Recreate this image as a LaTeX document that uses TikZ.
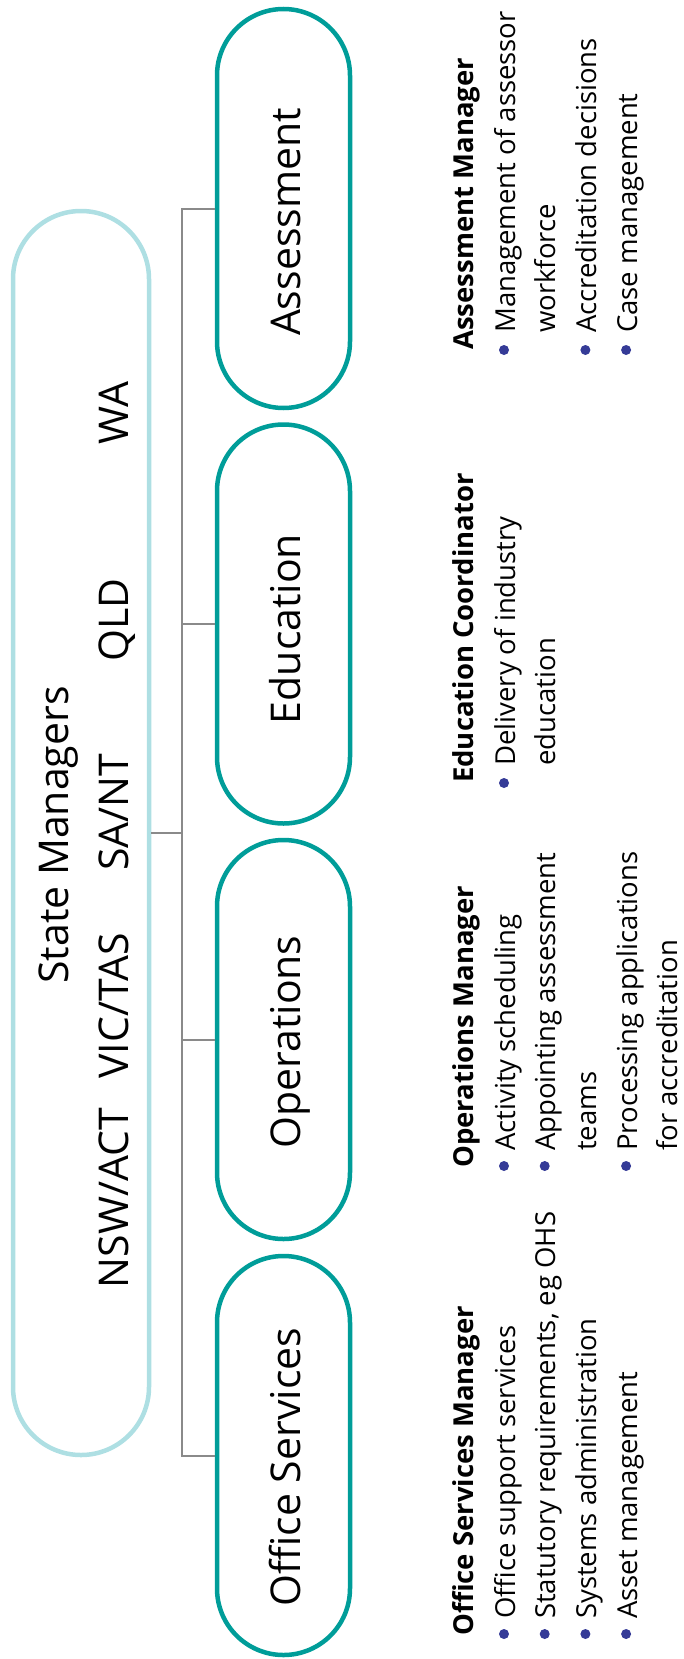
\documentclass[tikz,border=0pt]{standalone}
\usepackage{fontspec}
\setmainfont{Open Sans}
\usepackage{array}
\definecolor{boxteal}{RGB}{0,157,153}
\definecolor{smcyan}{RGB}{174,223,227}
\definecolor{conngray}{RGB}{138,138,138}
\definecolor{bulletblue}{RGB}{53,59,151}
\tikzset{
  unitbox/.style={draw=boxteal, line width=4.5pt, minimum width=133pt, minimum height=399pt, rounded corners=66.5pt, inner sep=0pt},
  smbox/.style={draw=smcyan, line width=4.5pt, minimum width=136pt, minimum height=1244pt, rounded corners=68pt, inner sep=0pt},
  conn/.style={draw=conngray, line width=2pt},
  boxlabel/.style={rotate=90, anchor=base, inner sep=0pt, font=\fontsize{41}{49}\selectfont},
  smtext/.style={rotate=90, anchor=base, inner sep=0pt, font=\fontsize{41}{49}\selectfont},
  listblock/.style={rotate=90, anchor=base west, inner sep=0pt, font=\fontsize{27.5}{40.7}\selectfont},
  bulletdot/.style={fill=bulletblue},
}
\begin{document}
\begin{tikzpicture}[x=1pt,y=-1pt]
\useasboundingbox (0,0) rectangle (683,1659);
% State managers box
\node[smbox] (sm) at (81,833) {};
\node[smtext] (smt) at (68,835) {State Managers};
\node[smtext] (nsw) at (128,1198) {NSW/ACT};
\node[smtext] (vic) at (128,1006) {VIC/TAS};
\node[smtext] (sa) at (128,812) {SA/NT};
\node[smtext] (qld) at (128,620) {QLD};
\node[smtext] (wa) at (128,413) {WA};
% unit boxes
\node[unitbox] (assess) at (283.5,208.5) {};
\node[unitbox] (edu) at (283.5,624) {};
\node[unitbox] (ops) at (283.5,1039.5) {};
\node[unitbox] (office) at (283.5,1455.5) {};
\node[boxlabel] (assessl) at (300,222) {Assessment};
\node[boxlabel] (edul) at (300,629) {Education};
\node[boxlabel] (opsl) at (300,1042) {Operations};
\node[boxlabel] (officel) at (300,1467) {Office Services};
% connectors
\coordinate (bus) at (182,833);
\draw[conn] (sm.east) -- (bus);
\draw[conn] (bus) |- (assess.west);
\draw[conn] (bus) |- (edu.west);
\draw[conn] (bus) |- (ops.west);
\draw[conn] (bus) |- (office.west);
% lists
\node[listblock] (assesslist) at (473,350) {\begin{tabular}[t]{@{\hspace*{17pt}}l@{}}
\multicolumn{1}{@{}l@{}}{\bfseries Assessment Manager}\\[1.3pt]
Management of assessor\\
workforce\\
Accreditation decisions\\
Case management
\end{tabular}};
\node[listblock] (edulist) at (473,783) {\begin{tabular}[t]{@{\hspace*{17pt}}l@{}}
\multicolumn{1}{@{}l@{}}{\bfseries Education Coordinator}\\[1.3pt]
Delivery of industry\\
education
\end{tabular}};
\node[listblock] (opslist) at (473,1168) {\begin{tabular}[t]{@{\hspace*{17pt}}l@{}}
\multicolumn{1}{@{}l@{}}{\bfseries Operations Manager}\\[1.3pt]
Activity scheduling\\
Appointing assessment\\
teams\\
Processing applications\\
for accreditation
\end{tabular}};
\node[listblock] (officelist) at (473,1636) {\begin{tabular}[t]{@{\hspace*{17pt}}l@{}}
\multicolumn{1}{@{}l@{}}{\bfseries Office Services Manager}\\[1.3pt]
Office support services\\
Statutory requirements, eg OHS\\
Systems administration\\
Asset management
\end{tabular}};
% bullets
\fill[bulletdot] (504,350) circle (5);
\fill[bulletdot] (585.4,350) circle (5);
\fill[bulletdot] (626.1,350) circle (5);
\fill[bulletdot] (504,783) circle (5);
\fill[bulletdot] (504,1166) circle (5);
\fill[bulletdot] (544.7,1166) circle (5);
\fill[bulletdot] (626.1,1166) circle (5);
\fill[bulletdot] (504,1634) circle (5);
\fill[bulletdot] (544.7,1634) circle (5);
\fill[bulletdot] (585.4,1634) circle (5);
\fill[bulletdot] (626.1,1634) circle (5);
\end{tikzpicture}
\end{document}
